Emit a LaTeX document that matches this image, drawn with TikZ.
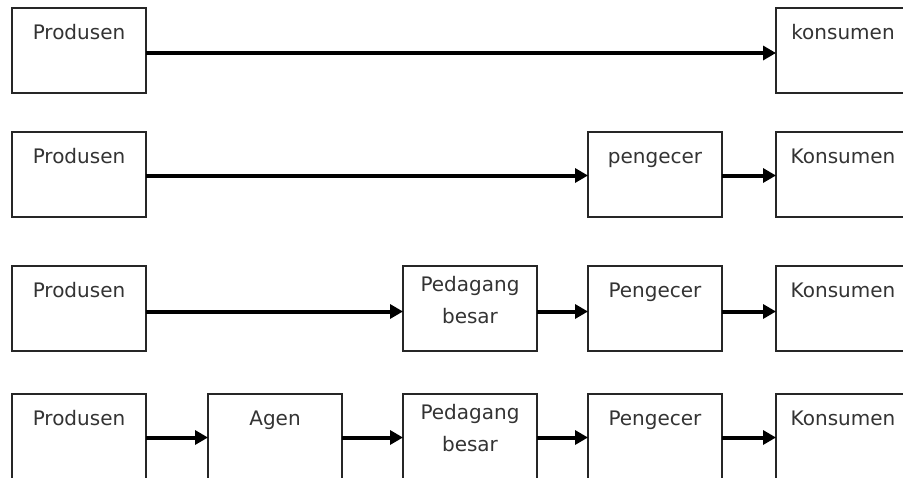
\documentclass[tikz,border=0pt]{standalone}
\usepackage{fontspec}
\setmainfont{DejaVu Sans}
\usetikzlibrary{arrows.meta}
\begin{document}
\begin{tikzpicture}[x=1pt,y=-1pt,
  box/.style={draw=black!85, line width=1.2pt, minimum width=134pt, minimum height=85pt,
    inner sep=0pt, outer sep=0pt, anchor=north west},
  lbl/.style={anchor=base, font=\fontsize{20}{32}\selectfont, text=black!80, inner sep=0pt, align=center},
  arr/.style={line width=4pt, -{Triangle[length=13pt,width=14pt]}, black}]
\useasboundingbox (0,0) rectangle (903,477);
% row 1
\node[box, label={[lbl,yshift=-31pt]north:Produsen}] (p1) at (12,8) {};
\node[box, label={[lbl,yshift=-31pt]north:konsumen}] (k1) at (776,8) {};
\draw[arr] ([yshift=-2.5pt]p1.east) -- ([yshift=-2.5pt]k1.west);
% row 2
\node[box, label={[lbl,yshift=-31pt]north:Produsen}] (p2) at (12,132) {};
\node[box, label={[lbl,yshift=-31pt]north:pengecer}] (e2) at (588,132) {};
\node[box, label={[lbl,yshift=-31pt]north:Konsumen}] (k2) at (776,132) {};
\draw[arr] ([yshift=-1pt]p2.east) -- ([yshift=-1pt]e2.west);
\draw[arr] ([yshift=-1pt]e2.east) -- ([yshift=-1pt]k2.west);
% row 3
\node[box, label={[lbl,yshift=-31pt]north:Produsen}] (p3) at (12,266) {};
\node[box, label={[lbl,yshift=-57pt]north:Pedagang\\besar}] (b3) at (403,266) {};
\node[box, label={[lbl,yshift=-31pt]north:Pengecer}] (e3) at (588,266) {};
\node[box, label={[lbl,yshift=-31pt]north:Konsumen}] (k3) at (776,266) {};
\draw[arr] ([yshift=-3pt]p3.east) -- ([yshift=-3pt]b3.west);
\draw[arr] ([yshift=-3pt]b3.east) -- ([yshift=-3pt]e3.west);
\draw[arr] ([yshift=-3pt]e3.east) -- ([yshift=-3pt]k3.west);
% row 4
\node[box, label={[lbl,yshift=-31pt]north:Produsen}] (p4) at (12,394) {};
\node[box, label={[lbl,yshift=-31pt]north:Agen}] (a4) at (208,394) {};
\node[box, label={[lbl,yshift=-57pt]north:Pedagang\\besar}] (b4) at (403,394) {};
\node[box, label={[lbl,yshift=-31pt]north:Pengecer}] (e4) at (588,394) {};
\node[box, label={[lbl,yshift=-31pt]north:Konsumen}] (k4) at (776,394) {};
\draw[arr] ([yshift=-1pt]p4.east) -- ([yshift=-1pt]a4.west);
\draw[arr] ([yshift=-1pt]a4.east) -- ([yshift=-1pt]b4.west);
\draw[arr] ([yshift=-1pt]b4.east) -- ([yshift=-1pt]e4.west);
\draw[arr] ([yshift=-1pt]e4.east) -- ([yshift=-1pt]k4.west);
\end{tikzpicture}
\end{document}
